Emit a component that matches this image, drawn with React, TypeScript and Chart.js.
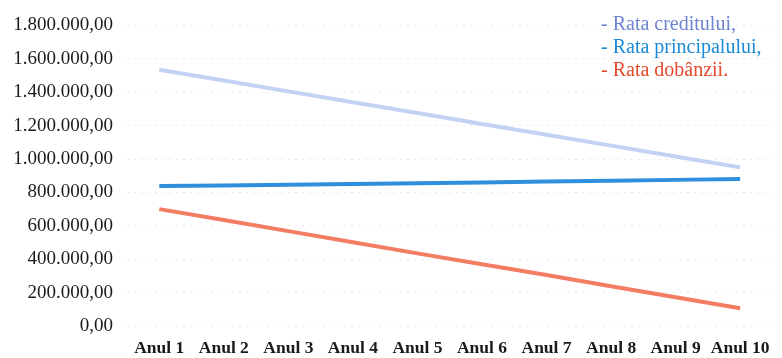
import React, { useEffect, useRef } from "react";
import { Chart, registerables } from "chart.js";

Chart.register(...registerables);

const categories = ["Anul 1", "Anul 2", "Anul 3", "Anul 4", "Anul 5", "Anul 6", "Anul 7", "Anul 8", "Anul 9", "Anul 10"];
const rataCreditului = [1535000, 1470000, 1405000, 1340000, 1275000, 1210000, 1145000, 1080000, 1015000, 950000];
const rataPrincipalului = [838000, 842000, 846000, 850000, 855000, 860000, 865000, 870000, 875000, 880000];
const rataDobanzii = [700000, 635000, 568000, 502000, 435000, 370000, 305000, 238000, 172000, 106000];
const seriesLabels = ["- Rata creditului,", "- Rata principalului,", "- Rata dobânzii."];
const yMax = 1800000;
const yStep = 200000;

const fmt = (v: number) => {
  const s = Math.round(v).toString().replace(/\B(?=(\d{3})+(?!\d))/g, ".");
  return s + ",00";
};

const legendPlugin = {
  id: "textLegend",
  afterDraw(chart: any) {
    const ctx = chart.ctx;
    ctx.save();
    ctx.font = "20px 'Liberation Serif', serif";
    ctx.textBaseline = "middle";
    ctx.textAlign = "left";
    chart.data.datasets.forEach((ds: any, i: number) => {
      ctx.fillStyle = ds.legendColor;
      ctx.fillText(ds.label, 601, 25 + i * 23);
    });
    ctx.restore();
  },
};

export default function App() {
  const ref = useRef<HTMLCanvasElement>(null);
  useEffect(() => {
    document.body.style.margin = "0";
    const chart = new Chart(ref.current!, {
      type: "line",
      data: {
        labels: categories,
        datasets: [
          { label: seriesLabels[0], data: rataCreditului, borderColor: "#c3d2f4", legendColor: "#6f84cf", borderWidth: 4, pointRadius: 0, tension: 0 } as any,
          { label: seriesLabels[1], data: rataPrincipalului, borderColor: "#2f8fdc", legendColor: "#1b8ad6", borderWidth: 4, pointRadius: 0, tension: 0 } as any,
          { label: seriesLabels[2], data: rataDobanzii, borderColor: "#f27d62", legendColor: "#e5482c", borderWidth: 4, pointRadius: 0, tension: 0 } as any,
        ],
      },
      options: {
        animation: false,
        responsive: false,
        maintainAspectRatio: false,
        layout: { padding: { top: 20, right: 8, bottom: 0, left: 0 } },
        plugins: { legend: { display: false }, tooltip: { enabled: false } },
        scales: {
          x: {
            offset: true,
            grid: { display: false, drawTicks: false },
            border: { display: false },
            ticks: { color: "#1a1a1a", font: { family: "'Liberation Serif', serif", size: 17.5, weight: "bold" }, padding: 12, maxRotation: 0, autoSkip: false },
            afterFit: (s: any) => { s.height = 32; },
          },
          y: {
            min: 0,
            max: yMax,
            grid: { color: "#e8e8e8", lineWidth: 1, drawTicks: false },
            border: { display: false, dash: [2, 5] },
            ticks: { stepSize: yStep, color: "#1a1a1a", font: { family: "'Liberation Serif', serif", size: 19 }, padding: 14, callback: (v: any) => fmt(Number(v)) },
            afterFit: (s: any) => { s.width = 127; },
          },
        },
      },
      plugins: [legendPlugin],
    });
    return () => chart.destroy();
  }, []);
  return (
    <div style={{ width: 782, height: 358, background: "#fff" }}>
      <canvas ref={ref} width={782} height={358} />
    </div>
  );
}
